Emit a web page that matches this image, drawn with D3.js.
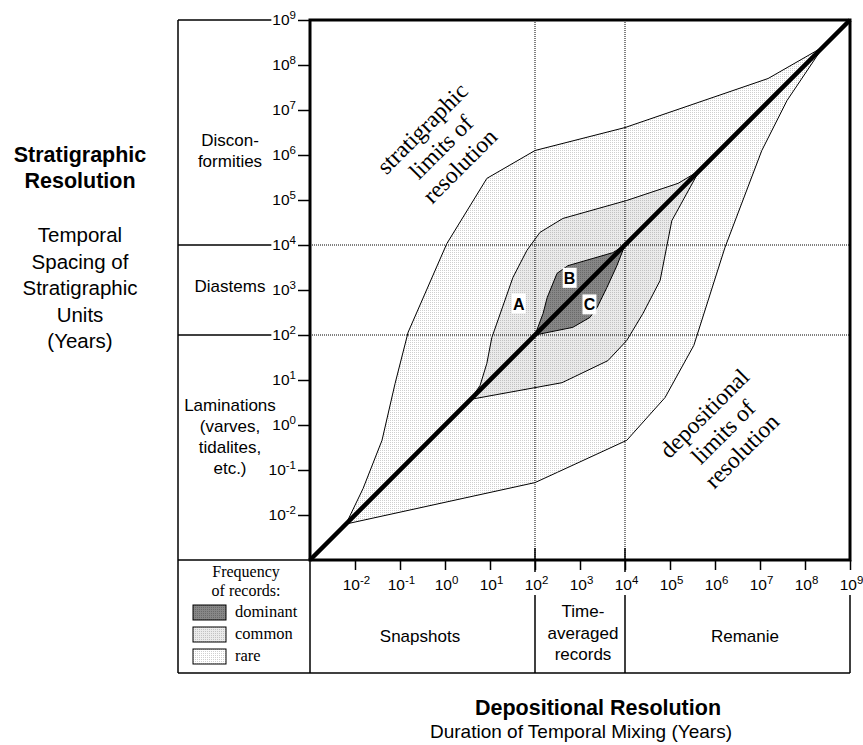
<!DOCTYPE html>
<html>
<head>
<meta charset="utf-8">
<script src="https://cdn.jsdelivr.net/npm/d3@7"></script>
<style>
  body { margin: 0; background: #fff; }
  text { font-family: "Liberation Sans", Arial, sans-serif; fill: #000; }
  .serif { font-family: "Liberation Serif", "Times New Roman", serif; }
</style>
</head>
<body>
<script>
// decade exponents for the ticks on both axes
var yTicks = [-2, -1, 0, 1, 2, 3, 4, 5, 6, 7, 8, 9];
var xTicks = [-2, -1, 0, 1, 2, 3, 4, 5, 6, 7, 8, 9];

// envelopes as [log10 depositional, log10 stratigraphic]
var rareUpper = [[-2.2, -2.2], [-1.82, -1.41], [-1.4, -0.34], [-1.11, 0.92], [-0.82, 2.06],
  [0.04, 4.03], [0.93, 5.48], [2.0, 6.1], [4.0, 6.61], [7.18, 7.7], [8.4, 8.4]];
var rareLower = [[-2.2, -2.2], [2.0, -1.28], [2.5, -1.05], [4.04, -0.34], [4.89, 0.61],
  [5.53, 1.77], [6.22, 3.94], [7.04, 6.1], [7.6, 7.21], [8.4, 8.4]];
var commonUpper = [[0.57, 0.57], [0.78, 0.88], [0.93, 1.37], [1.04, 1.94], [1.51, 3.28],
  [1.82, 3.88], [2.11, 4.28], [2.62, 4.59], [4.04, 4.99], [5.18, 5.37], [5.65, 5.65]];
var commonLower = [[0.57, 0.57], [2.0, 0.83], [2.6, 0.94], [3.62, 1.43], [4.04, 1.88],
  [4.4, 2.48], [4.78, 3.21], [5.04, 4.54], [5.65, 5.65]];
var dominantUpper = [[2, 2], [2.18, 2.48], [2.27, 2.83], [2.49, 3.37], [2.73, 3.54], [3.73, 3.83], [4, 4]];
var dominantLower = [[2, 2], [2.84, 2.17], [3.22, 2.39], [3.38, 2.61], [3.6, 3.06], [3.82, 3.54], [4, 4]];

var zoneNames = ['A', 'B', 'C'];
var zoneAt = [[1.64, 2.70], [2.77, 3.27], [3.21, 2.68]];

// class boundaries (exponents) and their names
var stratBreaks = [9, 4, 2, -3];
var stratNames = [['Discon-', 'formities'], ['Diastems'], ['Laminations', '(varves,', 'tidalites,', 'etc.)']];
var depoBreaks = [-3, 2, 4, 9];
var depoNames = [['Snapshots'], ['Time-', 'averaged', 'records'], ['Remanie']];
var freqNames = ['dominant', 'common', 'rare'];

function p(e) { return Math.pow(10, e); }

var svg = d3.select('body').append('svg')
  .attr('width', 863)
  .attr('height', 745);

var x = d3.scaleLog().domain([1e-3, 1e9]).range([310, 850]);
var y = d3.scaleLog().domain([1e-3, 1e9]).range([560, 20]);

// dotted fills
var defs = svg.append('defs');
function pattern(id, bg, dot) {
  var pt = defs.append('pattern')
    .attr('id', id)
    .attr('width', 2).attr('height', 2)
    .attr('patternUnits', 'userSpaceOnUse');
  pt.append('rect').attr('width', 2).attr('height', 2).attr('fill', bg);
  pt.append('rect').attr('width', 1).attr('height', 1).attr('fill', dot);
}
pattern('rarePat', '#ffffff', '#cfcfcf');
pattern('commonPat', '#ebebeb', '#c2c2c2');
pattern('dominantPat', '#878787', '#6a6a6a');
var fills = ['url(#dominantPat)', 'url(#commonPat)', 'url(#rarePat)'];

var line = d3.line()
  .x(d => x(p(d[0])))
  .y(d => y(p(d[1])));

function envelope(up, low) {
  return line(up.concat(low.slice().reverse())) + 'Z';
}

var envelopes = [[rareUpper, rareLower, fills[2]], [commonUpper, commonLower, fills[1]], [dominantUpper, dominantLower, fills[0]]];
svg.append('g')
  .selectAll('path')
  .data(envelopes)
  .enter()
    .append('path')
    .attr('d', d => envelope(d[0], d[1]))
    .attr('fill', d => d[2])
    .attr('stroke', '#000')
    .attr('stroke-width', 1);

// dotted guide lines at the class boundaries
var guides = [2, 4];
svg.append('g')
  .selectAll('line')
  .data(guides)
  .enter()
    .append('line')
    .attr('x1', d => x(p(d))).attr('x2', d => x(p(d)))
    .attr('y1', y(1e9)).attr('y2', y(1e-3))
    .attr('stroke', '#000').attr('stroke-dasharray', '1,1');
svg.append('g')
  .selectAll('line')
  .data(guides)
  .enter()
    .append('line')
    .attr('y1', d => y(p(d))).attr('y2', d => y(p(d)))
    .attr('x1', x(1e-3)).attr('x2', x(1e9))
    .attr('stroke', '#000').attr('stroke-dasharray', '1,1');

// 1:1 line
svg.append('line')
  .attr('x1', x(1e-3)).attr('y1', y(1e-3))
  .attr('x2', x(1e9)).attr('y2', y(1e9))
  .attr('stroke', '#000').attr('stroke-width', 4.5);

// A, B, C markers
var zones = svg.append('g')
  .selectAll('g')
  .data(zoneNames)
  .enter()
    .append('g')
    .attr('transform', (d, i) => 'translate(' + x(p(zoneAt[i][0])) + ',' + y(p(zoneAt[i][1])) + ')');
zones.append('rect')
  .attr('x', -7).attr('y', -10).attr('width', 14).attr('height', 20)
  .attr('fill', '#fff');
zones.append('text')
  .attr('text-anchor', 'middle')
  .attr('y', 6)
  .style('font-weight', 'bold')
  .style('font-size', '16px')
  .text(d => d);

// plot frame
svg.append('rect')
  .attr('x', x(1e-3)).attr('y', y(1e9))
  .attr('width', x(1e9) - x(1e-3)).attr('height', y(1e-3) - y(1e9))
  .attr('fill', 'none').attr('stroke', '#000').attr('stroke-width', 3);

// axes
function powerLabel(sel) {
  sel.append('tspan').text('10');
  sel.append('tspan')
    .attr('dy', -6)
    .style('font-size', '11.5px')
    .text(d => d);
}

var yAxis = svg.append('g')
  .attr('transform', 'translate(' + x(1e-3) + ',0)')
  .call(d3.axisLeft(y).tickValues(yTicks.map(p)).tickSize(12).tickFormat(''));
yAxis.select('.domain').remove();
yAxis.selectAll('line').attr('stroke-width', 1.5);

var yLabels = svg.append('g')
  .selectAll('text')
  .data(yTicks)
  .enter()
    .append('text')
    .attr('x', 296)
    .attr('y', d => y(p(d)) + 5)
    .attr('text-anchor', 'end')
    .style('font-size', '15.5px')
    .call(powerLabel);

var xAxis = svg.append('g')
  .attr('transform', 'translate(0,' + y(1e-3) + ')')
  .call(d3.axisBottom(x).tickValues(xTicks.map(p)).tickSize(10).tickFormat(''));
xAxis.select('.domain').remove();
xAxis.selectAll('line').attr('stroke-width', 1.5);

svg.append('g')
  .selectAll('text')
  .data(xTicks)
  .enter()
    .append('text')
    .attr('x', d => x(p(d)) + 1.5)
    .attr('y', 590)
    .attr('text-anchor', 'middle')
    .style('font-size', '15.5px')
    .call(powerLabel);

// left table: stratigraphic classes
var frame = svg.append('g')
  .attr('stroke', '#000')
  .attr('stroke-width', 1.5);
frame.append('line').attr('x1', 178).attr('x2', 178).attr('y1', y(1e9)).attr('y2', 673);
frame.append('line').attr('x1', 178).attr('x2', x(1e-3)).attr('y1', y(1e-3)).attr('y2', y(1e-3));
frame.append('line').attr('x1', 178).attr('x2', x(1e9)).attr('y1', 673).attr('y2', 673);
frame.append('line').attr('x1', x(1e-3)).attr('x2', x(1e-3)).attr('y1', y(1e-3)).attr('y2', 673);

yLabels.filter(d => stratBreaks.indexOf(d) >= 0).each(function(d) {
  var bb = this.getBBox();
  frame.append('line')
    .attr('x1', 178).attr('x2', bb.x - 1)
    .attr('y1', y(p(d))).attr('y2', y(p(d)));
});

// bottom table: depositional classes
depoBreaks.forEach(function(d) {
  if (d === -3) return;
  if (d !== 9) {
    frame.append('line').attr('x1', x(p(d))).attr('x2', x(p(d))).attr('y1', 548).attr('y2', 572);
  }
  frame.append('line').attr('x1', x(p(d))).attr('x2', x(p(d))).attr('y1', 595).attr('y2', 673);
});

var stratY = [146, 292, 411];
stratNames.forEach(function(lines, i) {
  var t = svg.append('text')
    .attr('text-anchor', 'middle')
    .style('font-size', '17px');
  lines.forEach(function(s, j) {
    t.append('tspan').attr('x', 230).attr('y', stratY[i] + j * 21).text(s);
  });
});

var depoX = [420, 583, 745];
var depoY = [642, 617, 642];
depoNames.forEach(function(lines, i) {
  var t = svg.append('text')
    .attr('text-anchor', 'middle')
    .style('font-size', '17px');
  lines.forEach(function(s, j) {
    t.append('tspan').attr('x', depoX[i]).attr('y', depoY[i] + j * 21.5).text(s);
  });
});

// legend
var legend = svg.append('g');
legend.append('text')
  .attr('class', 'serif')
  .attr('text-anchor', 'middle')
  .style('font-size', '16px')
  .selectAll('tspan')
  .data(['Frequency', 'of records:'])
  .enter()
    .append('tspan')
    .attr('x', 246)
    .attr('y', (d, i) => 577 + i * 19)
    .text(d => d);

var item = legend.selectAll('g')
  .data(freqNames)
  .enter()
    .append('g')
    .attr('transform', (d, i) => 'translate(193,' + (605 + i * 22) + ')');
item.append('rect')
  .attr('width', 33).attr('height', 15)
  .attr('fill', (d, i) => fills[i])
  .attr('stroke', '#000').attr('stroke-width', 1);
item.append('text')
  .attr('class', 'serif')
  .attr('x', 42).attr('y', 12)
  .style('font-size', '16.5px')
  .text(d => d);

// diagonal annotations
function slanted(cx, cy, lines) {
  var g = svg.append('g')
    .attr('transform', 'translate(' + cx + ',' + cy + ') rotate(-45)');
  g.selectAll('text')
    .data(lines)
    .enter()
      .append('text')
      .attr('class', 'serif')
      .attr('text-anchor', 'middle')
      .attr('dominant-baseline', 'central')
      .attr('y', (d, i) => (i - 1) * 26.5)
      .style('font-size', '23.5px')
      .text(d => d);
}
slanted(441, 147, ['stratigraphic', 'limits of', 'resolution']);
slanted(723, 432, ['depositional', 'limits of', 'resolution']);

// axis titles
var yTitle = svg.append('text').attr('text-anchor', 'middle');
['Stratigraphic', 'Resolution'].forEach(function(s, i) {
  yTitle.append('tspan').attr('x', 80).attr('y', 162 + i * 26)
    .style('font-weight', 'bold').style('font-size', '21.5px').text(s);
});
['Temporal', 'Spacing of', 'Stratigraphic', 'Units', '(Years)'].forEach(function(s, i) {
  yTitle.append('tspan').attr('x', 80).attr('y', 242 + i * 26.5)
    .style('font-size', '20.5px').text(s);
});

svg.append('text')
  .attr('x', 598).attr('y', 715)
  .attr('text-anchor', 'middle')
  .style('font-weight', 'bold')
  .style('font-size', '21.5px')
  .text('Depositional Resolution');
svg.append('text')
  .attr('x', 581).attr('y', 738)
  .attr('text-anchor', 'middle')
  .style('font-size', '19px')
  .text('Duration of Temporal Mixing (Years)');
</script>
</body>
</html>
